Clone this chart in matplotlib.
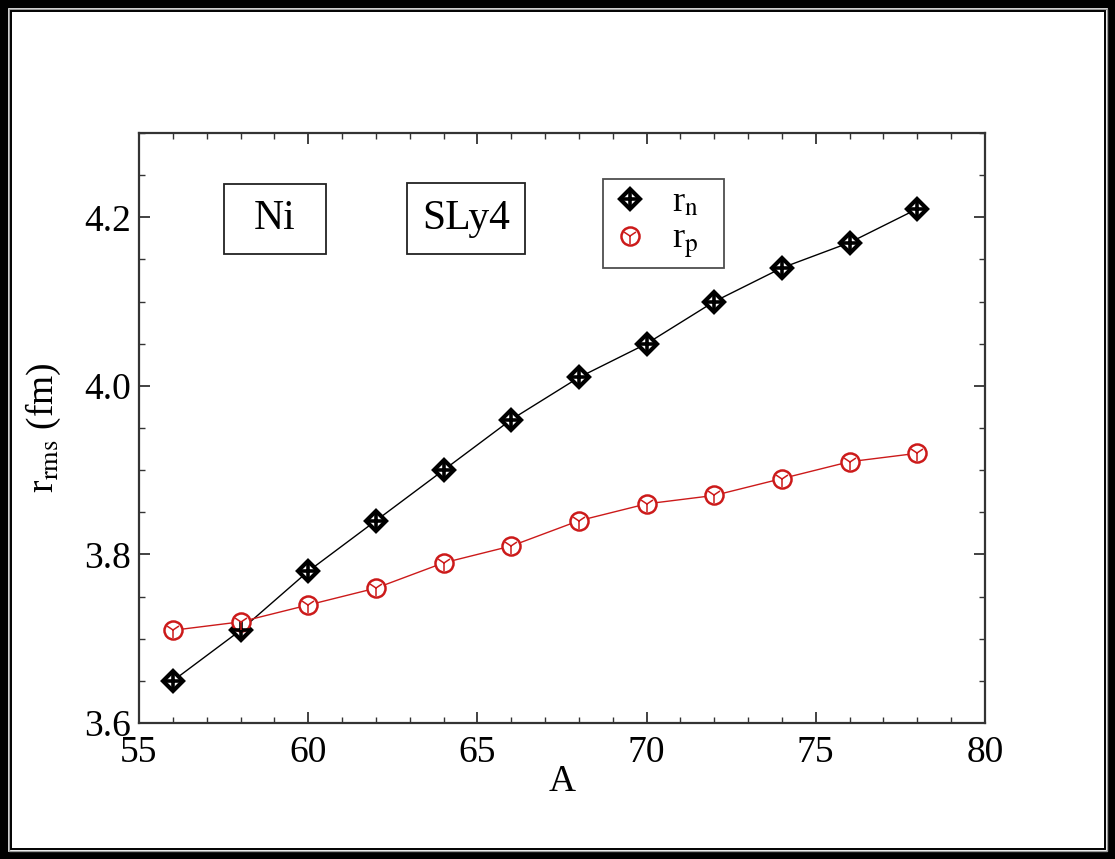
import matplotlib
matplotlib.use("Agg")
import matplotlib.pyplot as plt
from matplotlib.patches import Rectangle
from matplotlib.ticker import MultipleLocator

# ============================================================
# DATA
# ============================================================

mass_number = [56, 58, 60, 62, 64, 66, 68, 70, 72, 74, 76, 78]
r_neutron = [3.65, 3.71, 3.78, 3.84, 3.90, 3.96, 4.01, 4.05, 4.10, 4.14, 4.17, 4.21]
r_proton = [3.71, 3.72, 3.74, 3.76, 3.79, 3.81, 3.84, 3.86, 3.87, 3.89, 3.91, 3.92]

plt.rcParams["font.family"] = ["Liberation Serif", "DejaVu Serif"]
plt.rcParams["mathtext.fontset"] = "stix"

W, H = 1115, 859
fig = plt.figure(figsize=(W / 100, H / 100), dpi=100)


def fx(x):
    return x / W


def fy(y):
    return 1 - y / H


ax = fig.add_axes([fx(139), fy(723), fx(985) - fx(139), fy(133) - fy(723)])

red = "#cc1a1a"

# neutron radii: diamond with a cross inside
ax.plot(mass_number, r_neutron, color="black", lw=1.0, zorder=2)
n_dia, = ax.plot(mass_number, r_neutron, ls="none", marker="D", ms=10,
                 mfc="white", mec="black", mew=3.0, zorder=3)
n_plus, = ax.plot(mass_number, r_neutron, ls="none", marker="+", ms=13,
                  mec="black", mew=2.6, zorder=4)

# proton radii: open circle with inner strokes
ax.plot(mass_number, r_proton, color=red, lw=1.0, zorder=2)
p_circ, = ax.plot(mass_number, r_proton, ls="none", marker="o", ms=13,
                  mfc="white", mec=red, mew=1.8, zorder=3)
p_star, = ax.plot(mass_number, r_proton, ls="none", marker="1", ms=11,
                  mec=red, mew=1.1, zorder=4)

ax.set_xlim(55, 80)
ax.set_ylim(3.6, 4.3)
ax.xaxis.set_major_locator(MultipleLocator(5))
ax.xaxis.set_minor_locator(MultipleLocator(1))
ax.yaxis.set_major_locator(MultipleLocator(0.2))
ax.yaxis.set_minor_locator(MultipleLocator(0.05))
ax.yaxis.set_major_formatter(matplotlib.ticker.FormatStrFormatter("%.1f"))

ax.tick_params(which="both", direction="in", top=True, right=True,
               labelsize=27, color="#333333")
ax.tick_params(which="major", length=8, width=1.3, pad=6)
ax.tick_params(axis="x", which="major", pad=9)
ax.tick_params(which="minor", length=4, width=1.0)
for s in ax.spines.values():
    s.set_linewidth(1.6)
    s.set_color("#333333")

ax.set_xlabel("A", fontsize=27, labelpad=-4)
ax.set_ylabel(r"r$_{\rm rms}$ (fm)", fontsize=27, labelpad=15)

# labelled boxes
for label, x0, x1, y0, y1 in [("Ni", 224, 326, 184, 254),
                              ("SLy4", 407, 525, 183, 254)]:
    fig.patches.append(Rectangle((fx(x0), fy(y1)), fx(x1) - fx(x0),
                                 fy(y0) - fy(y1), transform=fig.transFigure,
                                 fill=False, ec="#222222", lw=1.3))
    fig.text(fx((x0 + x1) / 2), fy((y0 + y1) / 2), label, fontsize=30,
             ha="center", va="center")

leg = ax.legend([(n_dia, n_plus), (p_circ, p_star)],
                [r"r$_{\rm n}$", r"r$_{\rm p}$"],
                loc="upper left",
                bbox_to_anchor=(fx(603), fy(267), fx(724) - fx(603), fy(179) - fy(267)),
                mode="expand",
                bbox_transform=fig.transFigure, fontsize=26,
                fancybox=False, frameon=True, edgecolor="#222222",
                handlelength=1.1, handletextpad=0.6, borderpad=0.2,
                labelspacing=0.1, borderaxespad=0)
leg.get_frame().set_linewidth(1.3)

# page frame
fig.patches.append(Rectangle((0, 0), 1, 1, transform=fig.transFigure,
                             fill=False, ec="black", lw=11))
fig.patches.append(Rectangle((fx(8.5), fy(H - 8.5)), fx(W - 17), fy(8.5) - fy(H - 8.5),
                             transform=fig.transFigure, fill=False,
                             ec="#999999", lw=1.0))
fig.patches.append(Rectangle((fx(10.5), fy(H - 10.5)), fx(W - 21), fy(10.5) - fy(H - 10.5),
                             transform=fig.transFigure, fill=False,
                             ec="black", lw=1.4))

fig.savefig("out.png", dpi=100)
